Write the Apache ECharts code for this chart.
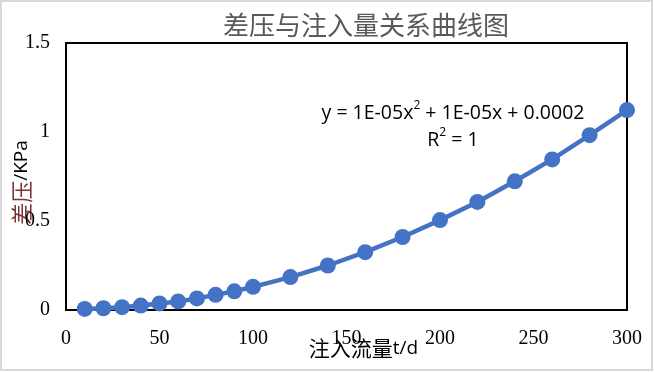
<!DOCTYPE html>
<html>
<head>
<meta charset="utf-8">
<script src="https://cdn.jsdelivr.net/npm/echarts@6/dist/echarts.min.js"></script>
<style>html,body{margin:0;padding:0;background:#fff}#c{width:654px;height:372px}</style>
</head>
<body>
<div id="c"></div>
<script>
var flowRates = [10, 20, 30, 40, 50, 60, 70, 80, 90, 100, 120, 140, 160, 180, 200, 220, 240, 260, 280, 300];
var pressureDiff = [0.006, 0.01, 0.016, 0.025, 0.037, 0.048, 0.065, 0.085, 0.105, 0.13, 0.185, 0.25, 0.325, 0.41, 0.505, 0.607, 0.723, 0.846, 0.982, 1.123];
var titleText = '差压与注入量关系曲线图';
var xAxisTitleA = '注入流量';
var xAxisTitleB = 't/d';
var yAxisTitleA = '差压';
var yAxisTitleB = '/KPa';
var eqMain = ['y = 1E-05x', ' + 1E-05x + 0.0002'];
var eqR = ['R', ' = 1'];

var seriesData = flowRates.map(function (x, i) { return [x, pressureDiff[i]]; });

var chart = echarts.init(document.getElementById('c'), null, { renderer: 'canvas' });
var serif = '"Liberation Serif", "Times New Roman", serif';
var cjkSerif = '"Liberation Serif", "Noto Sans CJK SC", serif';
var sans = '"Open Sans", "Liberation Sans", sans-serif';
var cjk = '"Noto Sans CJK SC", sans-serif';
var eqRich = {
  n: { fontFamily: sans, fontSize: 19.5, color: '#000', lineHeight: 26 },
  s: { fontFamily: sans, fontSize: 12, color: '#000', verticalAlign: 'top', lineHeight: 26, padding: [0, 0, 9, 0] }
};

chart.setOption({
  backgroundColor: '#fff',
  animation: false,
  grid: {
    left: 66, right: 27, top: 43, bottom: 62,
    outerBoundsMode: 'none', containLabel: false,
    show: true, borderColor: '#000', borderWidth: 2, backgroundColor: 'transparent'
  },
  xAxis: {
    type: 'value', min: 0, max: 300, interval: 50,
    axisLine: { show: false }, axisTick: { show: false }, splitLine: { show: false },
    axisLabel: { fontFamily: serif, fontSize: 20, color: '#000', margin: 19 },
    name: '{a|' + xAxisTitleA + '}{b|' + xAxisTitleB + '}', nameLocation: 'middle', nameGap: 28, nameMoveOverlap: false,
    nameTextStyle: {
      padding: [0, 0, 0, 34],
      rich: {
        a: { fontFamily: cjk, fontSize: 21, color: '#000' },
        b: { fontFamily: sans, fontSize: 19, color: '#000' }
      }
    }
  },
  yAxis: {
    type: 'value', min: 0, max: 1.5, interval: 0.5,
    axisLine: { show: false }, axisTick: { show: false }, splitLine: { show: false },
    axisLabel: { fontFamily: serif, fontSize: 20, color: '#000', margin: 16 },
    name: '{a|' + yAxisTitleA + '}{b|' + yAxisTitleB + '}', nameLocation: 'middle', nameGap: 33, nameRotate: 90, nameMoveOverlap: false,
    nameTextStyle: {
      padding: [0, 12, 0, 0],
      rich: {
        a: { fontFamily: cjk, fontSize: 22, color: '#7a3535' },
        b: { fontFamily: sans, fontSize: 19, color: '#000' }
      }
    }
  },
  series: [{
    type: 'line',
    data: seriesData,
    symbol: 'circle',
    symbolSize: 16,
    lineStyle: { color: '#4472C4', width: 4.5 },
    itemStyle: { color: '#4472C4' }
  }],
  graphic: [
    {
      type: 'rect', silent: true,
      shape: { x: 1, y: 1, width: 651, height: 369 },
      style: { fill: 'none', stroke: '#d9d9d9', lineWidth: 2 }
    },
    {
      type: 'text', x: 366, y: 28, silent: true,
      style: {
        align: 'center', verticalAlign: 'middle', text: titleText,
        fontFamily: cjkSerif, fontSize: 26, fontWeight: 'normal', fill: '#595959'
      }
    },
    {
      type: 'text', x: 453, y: 113, silent: true,
      style: {
        align: 'center', verticalAlign: 'middle',
        text: '{n|' + eqMain[0] + '}{s|2}{n|' + eqMain[1] + '}',
        rich: eqRich
      }
    },
    {
      type: 'text', x: 453, y: 140, silent: true,
      style: {
        align: 'center', verticalAlign: 'middle',
        text: '{n|' + eqR[0] + '}{s|2}{n|' + eqR[1] + '}',
        rich: eqRich
      }
    }
  ]
});
</script>
</body>
</html>
